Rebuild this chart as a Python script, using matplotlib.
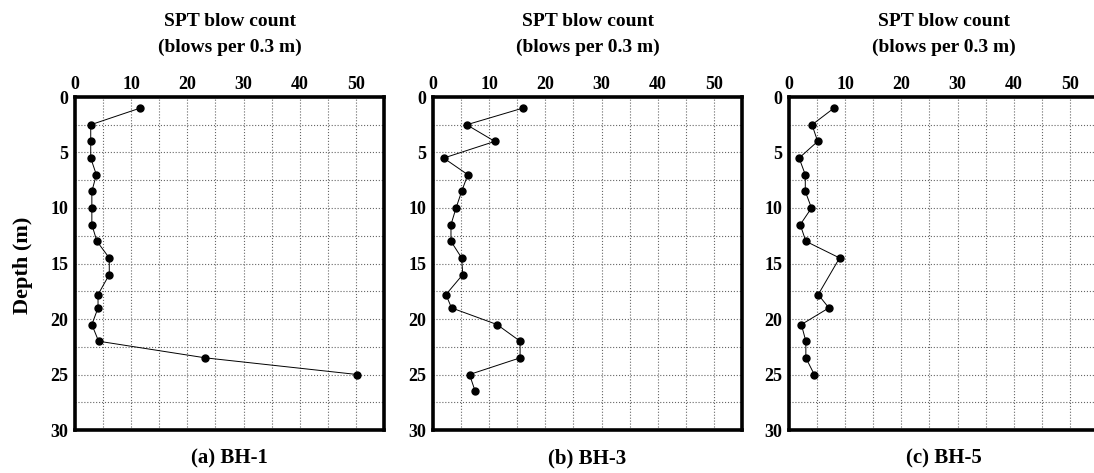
import matplotlib
matplotlib.use("Agg")
import matplotlib.pyplot as plt
from matplotlib.ticker import MultipleLocator

plt.rcParams['font.family'] = ['Liberation Serif', 'DejaVu Serif']
plt.rcParams['font.weight'] = 'bold'

# SPT data
depth_bh1 = [1.0, 2.5, 4.0, 5.5, 7.0, 8.5, 10.0, 11.5, 13.0, 14.5, 16.0, 17.8, 19.0, 20.5, 22.0, 23.5, 25.0]
spt_bh1 = [11.6, 2.8, 2.8, 2.8, 3.8, 3.0, 3.0, 3.0, 3.9, 6.1, 6.1, 4.1, 4.1, 3.0, 4.2, 23.2, 50.2]

depth_bh3 = [1.0, 2.5, 4.0, 5.5, 7.0, 8.5, 10.0, 11.5, 13.0, 14.5, 16.0, 17.8, 19.0, 20.5, 22.0, 23.5, 25.0, 26.5]
spt_bh3 = [16.0, 6.0, 11.0, 1.9, 6.2, 5.1, 4.1, 3.2, 3.2, 5.1, 5.3, 2.3, 3.3, 11.4, 15.5, 15.5, 6.5, 7.5]

depth_bh5 = [1.0, 2.5, 4.0, 5.5, 7.0, 8.5, 10.0, 11.5, 13.0, 14.5, 17.8, 19.0, 20.5, 22.0, 23.5, 25.0]
spt_bh5 = [8.0, 4.1, 5.1, 1.8, 2.9, 2.9, 4.0, 2.0, 3.0, 9.0, 5.2, 7.1, 2.2, 3.0, 3.0, 4.5]

captions = ['(a) BH-1', '(b) BH-3', '(c) BH-5']
x_ticks = [0, 10, 20, 30, 40, 50]
y_ticks = [0, 5, 10, 15, 20, 25, 30]

W, H = 1094, 473
fig = plt.figure(figsize=(W / 100, H / 100), dpi=100)

lefts = [75, 433, 789]
panel_w = 309
top_px, bot_px = 97, 430

series = [(spt_bh1, depth_bh1), (spt_bh3, depth_bh3), (spt_bh5, depth_bh5)]

for i, (left, (n, d)) in enumerate(zip(lefts, series)):
    ax = fig.add_axes([left / W, 1 - bot_px / H, panel_w / W, (bot_px - top_px) / H])
    ax.set_xlim(0, 55)
    ax.set_ylim(30, 0)
    ax.xaxis.tick_top()
    ax.set_xticks(x_ticks)
    ax.set_yticks(y_ticks)
    ax.xaxis.set_minor_locator(MultipleLocator(5))
    ax.yaxis.set_minor_locator(MultipleLocator(2.5))
    ax.tick_params(which='both', length=0)
    ax.tick_params(axis='x', pad=3, labelsize=13)
    ax.tick_params(axis='y', pad=5, labelsize=13)
    for lab in ax.get_xticklabels() + ax.get_yticklabels():
        lab.set_fontweight('bold')
    ax.grid(True, which='both', linestyle=':', color='0.4', linewidth=0.8)
    for sp in ax.spines.values():
        sp.set_linewidth(2.6)
        sp.set_color('black')

    ax.plot(n, d, color='black', linewidth=0.7, marker='o', markersize=5,
            markerfacecolor='black', markeredgecolor='black', clip_on=False, zorder=3)

    cx = (left + panel_w / 2) / W
    fig.text(cx, 1 - 22 / H, 'SPT blow count', ha='center', va='center',
             fontsize=14, fontweight='bold')
    fig.text(cx, 1 - 47 / H, '(blows per 0.3 m)', ha='center', va='center',
             fontsize=14, fontweight='bold')
    fig.text(cx, 1 - 458 / H, captions[i], ha='center', va='center',
             fontsize=15, fontweight='bold')

fig.text(23 / W, 1 - 265 / H, 'Depth (m)', rotation=90, ha='center', va='center',
         fontsize=16, fontweight='bold')

fig.savefig('out.png', dpi=100)
